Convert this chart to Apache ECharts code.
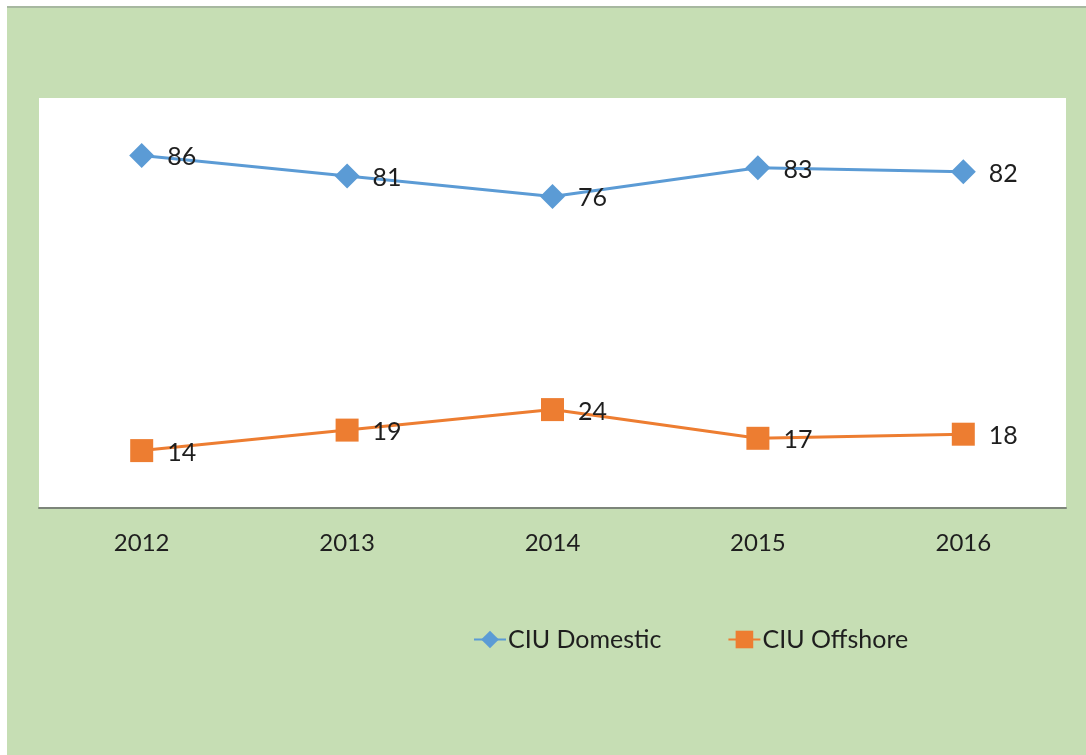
<!DOCTYPE html>
<html>
<head>
<meta charset="utf-8">
<script src="https://cdn.jsdelivr.net/npm/echarts@6/dist/echarts.min.js"></script>
<style>
  html, body { margin: 0; padding: 0; background: #ffffff; }
  #chart { width: 1086px; height: 755px; }
</style>
</head>
<body>
<div id="chart"></div>
<script>
const categories = ['2012', '2013', '2014', '2015', '2016'];
const domesticName = 'CIU Domestic';
const offshoreName = 'CIU Offshore';
const domesticValues = [86, 81, 76, 83, 82];
const offshoreValues = [14, 19, 24, 17, 18];

const chart = echarts.init(document.getElementById('chart'), null, { renderer: 'canvas' });
const labelFont = { fontFamily: 'Lato', fontSize: 25, color: '#1e1e1e' };

chart.setOption({
  backgroundColor: '#ffffff',
  animation: false,
  graphic: [
    { type: 'rect', z: -10, shape: { x: 7, y: 7, width: 1079, height: 748 }, style: { fill: '#c6deb4' } },
    { type: 'line', z: -9, shape: { x1: 7, y1: 7, x2: 1086, y2: 7 }, style: { stroke: '#a7b8a0', lineWidth: 2 } }
  ],
  grid: {
    left: 39, right: 20, top: 98, bottom: 247,
    show: true, backgroundColor: '#ffffff', borderWidth: 0
  },
  legend: {
    left: 468, top: 622,
    itemWidth: 32, itemHeight: 22, itemGap: 66,
    textStyle: { fontFamily: 'Lato', fontSize: 25, color: '#1e1e1e', padding: [0, 0, 0, -3] },
    data: [domesticName, offshoreName]
  },
  xAxis: {
    type: 'category',
    data: categories,
    boundaryGap: true,
    axisLine: { show: true, lineStyle: { color: '#7d857a', width: 2 } },
    axisTick: { show: false },
    axisLabel: { margin: 23, fontFamily: 'Lato', fontSize: 24, color: '#1e1e1e' },
    splitLine: { show: false }
  },
  yAxis: {
    type: 'value', min: 0, max: 100, show: false,
    splitLine: { show: false }
  },
  series: [
    {
      name: domesticName,
      type: 'line',
      data: domesticValues,
      symbol: 'diamond',
      symbolSize: 25,
      itemStyle: { color: '#5b9bd5' },
      lineStyle: { color: '#5b9bd5', width: 3 },
      label: Object.assign({ show: true, position: 'right', distance: 13, offset: [0, 2] }, labelFont)
    },
    {
      name: offshoreName,
      type: 'line',
      data: offshoreValues,
      symbol: 'rect',
      symbolSize: 23,
      itemStyle: { color: '#ed7d31' },
      lineStyle: { color: '#ed7d31', width: 3 },
      label: Object.assign({ show: true, position: 'right', distance: 14, offset: [0, 2] }, labelFont)
    }
  ]
});
</script>
</body>
</html>
